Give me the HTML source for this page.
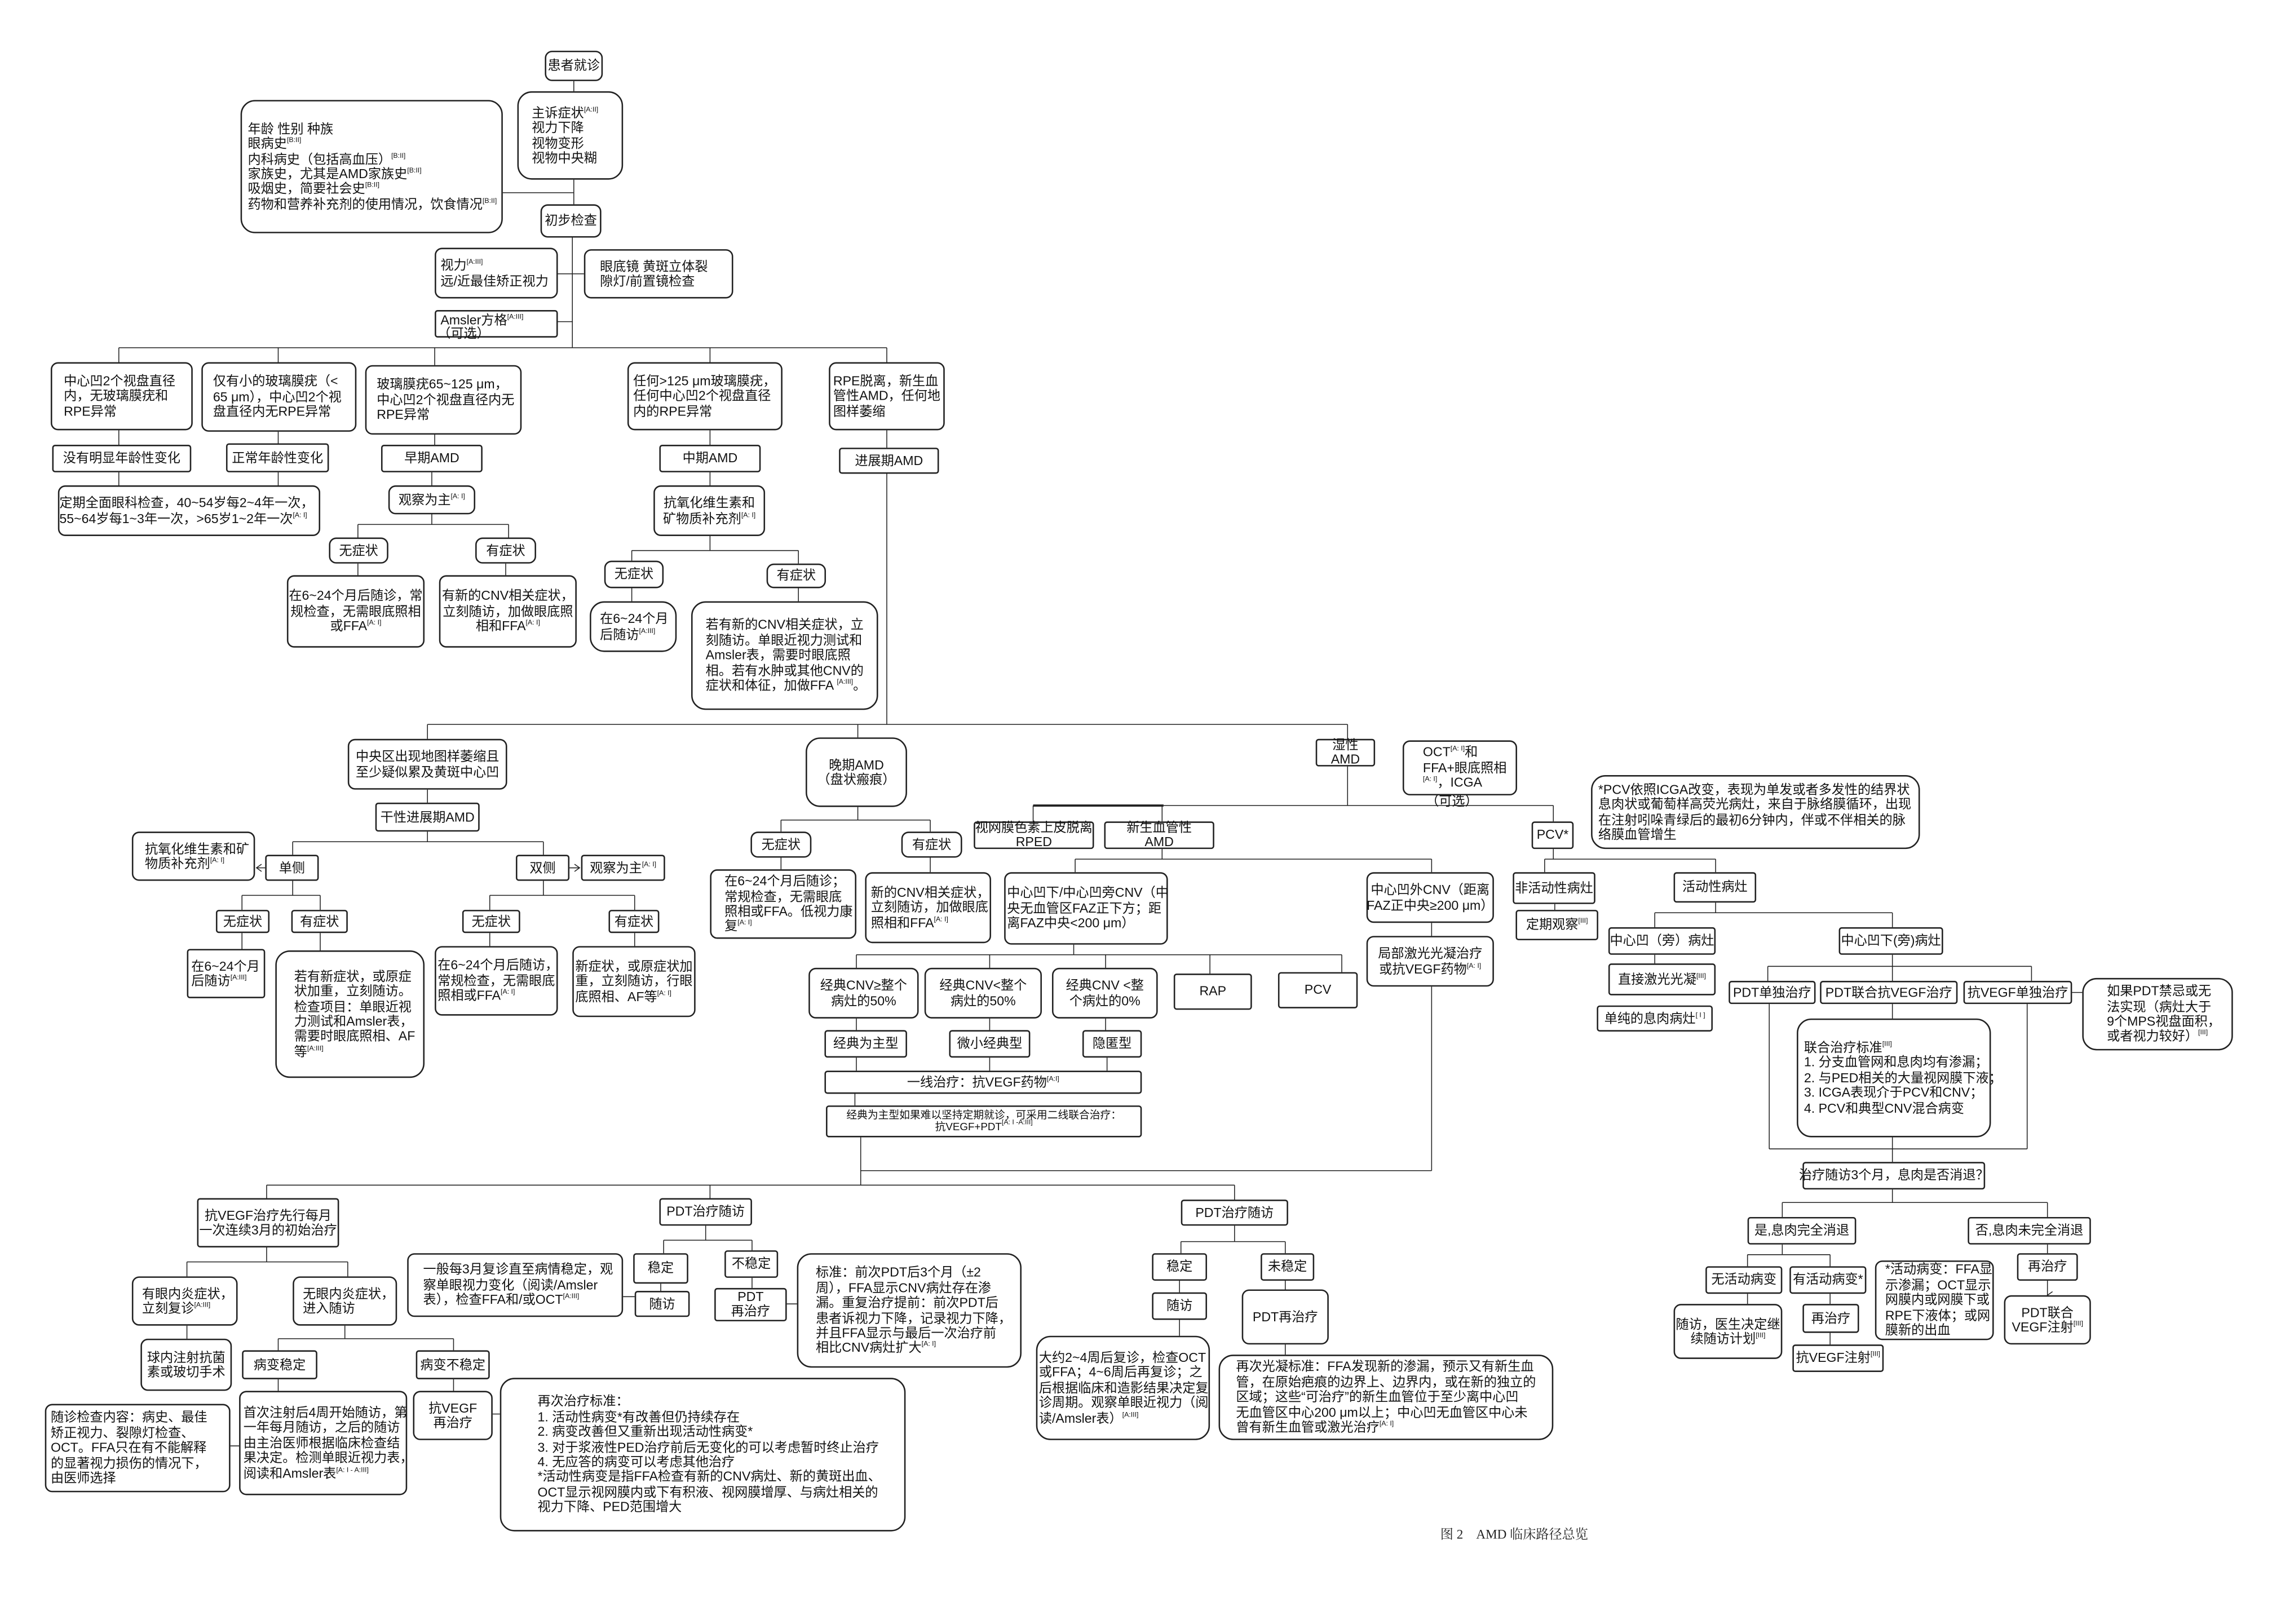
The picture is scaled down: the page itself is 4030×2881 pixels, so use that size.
<!DOCTYPE html>
<html><head><meta charset="utf-8"><style>
html,body{margin:0;padding:0;background:#fff;}
body{width:4030px;height:2880px;overflow:hidden;position:relative;}
#w{position:absolute;left:0;top:0;width:1568px;height:1121px;transform:scale(2.5702);transform-origin:0 0;}
.b{position:absolute;box-sizing:border-box;border:0.7px solid #222;border-radius:5px;background:#fff;font-family:"Liberation Sans","Noto Sans CJK SC",sans-serif;font-size:9px;line-height:10.4px;color:#111;padding:1px 3px;display:flex;flex-direction:column;justify-content:center;white-space:nowrap;}
.c{align-items:center;text-align:center;}
.r{border-radius:2px;}
.rr{border-radius:10px;}
sup{font-size:4.8px;line-height:0;vertical-align:4px;}
svg{position:absolute;left:0;top:0;}
.t{position:absolute;font-family:"Liberation Sans","Noto Sans CJK SC",sans-serif;font-size:9px;line-height:10px;color:#111;white-space:nowrap;}
.cap{position:absolute;left:994px;top:1052px;font-family:"Liberation Serif","Noto Serif CJK SC",serif;font-size:9px;color:#222;white-space:nowrap;}
</style></head><body><div id="w">
<svg width="1568" height="1121" viewBox="0 0 1568 1121">
<defs><marker id="a" markerWidth="6" markerHeight="6" refX="3" refY="5" orient="auto-start-reverse" markerUnits="userSpaceOnUse"><path d="M0.5,1.5 L3,5 L5.5,1.5" fill="none" stroke="#222" stroke-width="0.6"/></marker>
<marker id="h" markerWidth="6" markerHeight="6" refX="5" refY="3" orient="0" markerUnits="userSpaceOnUse"><path d="M1.5,0.5 L5,3 L1.5,5.5" fill="none" stroke="#222" stroke-width="0.6"/></marker>
<marker id="l" markerWidth="6" markerHeight="6" refX="1" refY="3" orient="0" markerUnits="userSpaceOnUse"><path d="M4.5,0.5 L1,3 L4.5,5.5" fill="none" stroke="#222" stroke-width="0.6"/></marker></defs>
<g stroke="#222" stroke-width="0.6" fill="none">
<path d="M396,56V63 M396,124V141 M347,133H396 M395,164V240 M385,189H403 M385,222H395 M82,240H612 M82,240V250 M192,240V250 M300,240V252 M490,240V250 M612,240V250"/>
<path d="M82,297V307 M192,298V306 M300,300V307 M490,297V307 M612,297V309"/>
<path d="M82,326V335 M192,326V335 M247,389V397 M349,389V397 M436,406V415 M551,406V415 M167,644V655 M221,644V656 M338,644V653 M438,644V653 M539,592V600 M642,592V602 M591,730V739 M683,730V739 M764,730V739 M590,755V763 M129,915V924 M192,952V960 M313,952V960 M456,886V891 M519,882V889 M1220,667V677 M1306,667V677 M1402,667V677 M1413,884V894" marker-end="url(#a)"/>
<path d="M298,326V362 M247,362H351 M247,362V371 M351,362V371 M490,326V335 M490,370V380 M436,380H551 M436,380V387 M551,380V389 M612,327V500"/>
<path d="M295,500H930 M295,500V510 M592,500V509 M930,500V510 M930,529V556 M295,545V554 M295,574V581 M202,581H375 M202,581V590 M375,581V590 M202,608V618 M167,618H221 M167,618V628 M221,618V628 M375,608V618 M338,618H438 M338,618V628 M438,618V628 M592,557V566 M539,566H642 M539,566V574 M642,566V574"/>
<path d="M183,599H177" marker-end="url(#l)"/><path d="M393,599H400" marker-end="url(#h)"/>
<path d="M803,556H1072 M802,556V567 M713,556V567 M1072,556V567 M802,586V593 M742,593H988 M742,593V602 M988,593V602 M988,637V646 M988,681V808 M741,652V659 M591,659H926 M591,659V668 M683,659V668 M763,659V668 M835,659V672 M926,659V671 M591,703V711 M683,703V711 M763,703V711"/>
<path d="M713,556H803" stroke-width="1.5"/>
<path d="M594,785V818 M594,808H988 M184,818H852 M184,818V827 M490,818V827 M852,818V828 M184,861V871 M129,871H240 M129,871V881 M240,871V881 M238,915V924 M192,924H313 M192,924V932 M313,924V932 M159,998H165 M340,976H345 M487,846V856 M458,856H519 M458,856V865 M519,856V863 M430,895H438 M543,900H550 M852,846V857 M815,857H887 M815,857V865 M887,857V865 M814,884V892 M887,884V890 M814,911V922 M887,928V935"/>
<path d="M1072,586V593 M1066,593H1184 M1066,593V602 M1184,593V602 M1073,624V628 M1184,623V630 M1142,630H1306 M1142,630V640 M1306,630V640 M1142,659V665 M1306,659V667 M1220,667H1402 M1430,685H1437 M1221,693V793 M1399,693V793 M1221,793H1399 M1306,693V703 M1306,785V802 M1306,821V830 M1230,830H1413 M1230,830V840 M1413,830V840 M1230,859V866 M1206,866H1263 M1206,866V874 M1263,866V874 M1206,893V900 M1263,893V900 M1263,920V928 M1413,859V865"/>
</g></svg>

<div class="b c" style="left:376px;top:35px;width:40px;height:21px"><div>患者就诊</div></div>
<div class="b rr" style="left:357px;top:63px;width:73px;height:61px;padding-left:9px"><div>主诉症状<sup>[A:II]</sup><br>视力下降<br>视物变形<br>视物中央糊</div></div>
<div class="b rr" style="left:166px;top:69px;width:181px;height:92px;padding-left:4px"><div>年龄 性别 种族<br>眼病史<sup>[B:II]</sup><br>内科病史（包括高血压）<sup>[B:II]</sup><br>家族史，尤其是AMD家族史<sup>[B:II]</sup><br>吸烟史，简要社会史<sup>[B:II]</sup><br>药物和营养补充剂的使用情况，饮食情况<sup>[B:II]</sup></div></div>
<div class="b c" style="left:373px;top:141px;width:42px;height:23px"><div>初步检查</div></div>
<div class="b" style="left:300px;top:171px;width:85px;height:35px"><div>视力<sup>[A:III]</sup><br>远/近最佳矫正视力</div></div>
<div class="b" style="left:403px;top:172px;width:103px;height:34px;padding-left:10px"><div>眼底镜 黄斑立体裂<br>隙灯/前置镜检查</div></div>
<div class="b r" style="left:300px;top:214px;width:85px;height:19px;justify-content:flex-start"><div>Amsler方格<sup>[A:III]</sup></div></div>
<div class="t" style="left:302px;top:225px">（可选）</div>

<div class="b" style="left:35px;top:250px;width:98px;height:47px;padding-left:8px"><div>中心凹2个视盘直径<br>内，无玻璃膜疣和<br>RPE异常</div></div>
<div class="b" style="left:139px;top:250px;width:107px;height:48px;padding-left:7px"><div>仅有小的玻璃膜疣（&lt;<br>65 μm），中心凹2个视<br>盘直径内无RPE异常</div></div>
<div class="b" style="left:252px;top:252px;width:108px;height:48px;padding-left:7px"><div>玻璃膜疣65~125 μm，<br>中心凹2个视盘直径内无<br>RPE异常</div></div>
<div class="b" style="left:433px;top:250px;width:107px;height:47px"><div>任何&gt;125 μm玻璃膜疣，<br>任何中心凹2个视盘直径<br>内的RPE异常</div></div>
<div class="b" style="left:572px;top:250px;width:80px;height:47px;padding-left:2px"><div>RPE脱离，新生血<br>管性AMD，任何地<br>图样萎缩</div></div>
<div class="b c r" style="left:36px;top:307px;width:96px;height:19px"><div>没有明显年龄性变化</div></div>
<div class="b c r" style="left:156px;top:306px;width:71px;height:20px"><div>正常年龄性变化</div></div>
<div class="b c r" style="left:263px;top:307px;width:70px;height:19px"><div>早期AMD</div></div>
<div class="b c r" style="left:455px;top:307px;width:70px;height:19px"><div>中期AMD</div></div>
<div class="b c r" style="left:579px;top:309px;width:69px;height:18px"><div>进展期AMD</div></div>
<div class="b" style="left:40px;top:335px;width:181px;height:35px;padding-left:0"><div>定期全面眼科检查，40~54岁每2~4年一次，<br>55~64岁每1~3年一次，&gt;65岁1~2年一次<sup>[A: I]</sup></div></div>
<div class="b c" style="left:268px;top:335px;width:60px;height:20px"><div>观察为主<sup>[A: I]</sup></div></div>
<div class="b c" style="left:451px;top:335px;width:77px;height:35px"><div>抗氧化维生素和<br>矿物质补充剂<sup>[A: I]</sup></div></div>
<div class="b c" style="left:227px;top:371px;width:41px;height:18px"><div>无症状</div></div>
<div class="b c" style="left:328px;top:371px;width:42px;height:18px"><div>有症状</div></div>
<div class="b c" style="left:198px;top:397px;width:95px;height:50px"><div>在6~24个月后随诊，常<br>规检查，无需眼底照相<br>或FFA<sup>[A: I]</sup></div></div>
<div class="b c" style="left:303px;top:397px;width:95px;height:50px"><div>有新的CNV相关症状，<br>立刻随访，加做眼底照<br>相和FFA<sup>[A: I]</sup></div></div>
<div class="b c" style="left:417px;top:387px;width:41px;height:19px"><div>无症状</div></div>
<div class="b c" style="left:529px;top:389px;width:41px;height:17px"><div>有症状</div></div>
<div class="b rr" style="left:407px;top:415px;width:60px;height:35px;padding-left:6px"><div>在6~24个月<br>后随访<sup>[A:III]</sup></div></div>
<div class="b rr" style="left:477px;top:415px;width:129px;height:75px;padding-left:9px"><div>若有新的CNV相关症状，立<br>刻随访。单眼近视力测试和<br>Amsler表，需要时眼底照<br>相。若有水肿或其他CNV的<br>症状和体征，加做FFA <sup>[A:III]</sup>。</div></div>

<div class="b c" style="left:240px;top:510px;width:110px;height:35px"><div>中央区出现地图样萎缩且<br>至少疑似累及黄斑中心凹</div></div>
<div class="b c r" style="left:259px;top:554px;width:72px;height:20px"><div>干性进展期AMD</div></div>
<div class="b" style="left:91px;top:574px;width:85px;height:34px;padding-left:8px"><div>抗氧化维生素和矿<br>物质补充剂<sup>[A: I]</sup></div></div>
<div class="b c r" style="left:183px;top:590px;width:37px;height:18px"><div>单侧</div></div>
<div class="b c r" style="left:356px;top:590px;width:37px;height:18px"><div>双侧</div></div>
<div class="b c r" style="left:401px;top:590px;width:58px;height:18px"><div>观察为主<sup>[A: I]</sup></div></div>
<div class="b c r" style="left:149px;top:628px;width:37px;height:16px"><div>无症状</div></div>
<div class="b c r" style="left:201px;top:628px;width:39px;height:16px"><div>有症状</div></div>
<div class="b r" style="left:129px;top:655px;width:54px;height:34px;padding-left:2px"><div>在6~24个月<br>后随访<sup>[A:III]</sup></div></div>
<div class="b rr" style="left:190px;top:656px;width:103px;height:88px;padding-left:12px"><div>若有新症状，或原症<br>状加重，立刻随访。<br>检查项目：单眼近视<br>力测试和Amsler表，<br>需要时眼底照相、AF<br>等<sup>[A:III]</sup></div></div>
<div class="b c r" style="left:319px;top:628px;width:40px;height:16px"><div>无症状</div></div>
<div class="b c r" style="left:420px;top:628px;width:35px;height:16px"><div>有症状</div></div>
<div class="b" style="left:300px;top:653px;width:85px;height:48px;padding-left:1px"><div>在6~24个月后随访，<br>常规检查，无需眼底<br>照相或FFA<sup>[A: I]</sup></div></div>
<div class="b" style="left:395px;top:653px;width:85px;height:49px;padding-left:1px"><div>新症状，或原症状加<br>重，立刻随访，行眼<br>底照相、AF等<sup>[A: I]</sup></div></div>

<div class="b c rr" style="left:556px;top:509px;width:70px;height:48px"><div>晚期AMD<br>（盘状瘢痕）</div></div>
<div class="b c" style="left:518px;top:574px;width:42px;height:18px"><div>无症状</div></div>
<div class="b c" style="left:622px;top:574px;width:42px;height:18px"><div>有症状</div></div>
<div class="b" style="left:490px;top:600px;width:101px;height:48px;padding-left:9px"><div>在6~24个月后随诊；<br>常规检查，无需眼底<br>照相或FFA。低视力康<br>复<sup>[A: I]</sup></div></div>
<div class="b" style="left:597px;top:602px;width:87px;height:49px;padding-left:3px"><div>新的CNV相关症状，<br>立刻随访，加做眼底<br>照相和FFA<sup>[A: I]</sup></div></div>

<div class="b c r" style="left:908px;top:510px;width:41px;height:19px;line-height:9.5px"><div>湿性<br>AMD</div></div>
<div class="b" style="left:968px;top:511px;width:79px;height:38px;padding-left:13px"><div>OCT<sup>[A: I]</sup>和<br>FFA+眼底照相<br><sup>[A: I]</sup>，ICGA</div></div>
<div class="t" style="left:984px;top:548px">（可选）</div>
<div class="b c r" style="left:672px;top:567px;width:83px;height:19px;line-height:9.5px"><div>视网膜色素上皮脱离<br>RPED</div></div>
<div class="b c r" style="left:762px;top:567px;width:76px;height:19px;line-height:9.5px"><div>新生血管性<br>AMD</div></div>
<div class="b c r" style="left:1057px;top:567px;width:29px;height:19px"><div>PCV*</div></div>
<div class="b rr" style="left:1098px;top:535px;width:227px;height:51px;padding-left:4px"><div>*PCV依照ICGA改变，表现为单发或者多发性的结界状<br>息肉状或葡萄样高荧光病灶，来自于脉络膜循环，出现<br>在注射吲哚青绿后的最初6分钟内，伴或不伴相关的脉<br>络膜血管增生</div></div>
<div class="b" style="left:693px;top:602px;width:113px;height:50px;padding-left:1px"><div>中心凹下/中心凹旁CNV（中<br>央无血管区FAZ正下方；距<br>离FAZ中央&lt;200 μm）</div></div>
<div class="b c" style="left:943px;top:602px;width:88px;height:35px"><div>中心凹外CNV（距离<br>FAZ正中央≥200 μm）</div></div>
<div class="b c" style="left:943px;top:646px;width:88px;height:35px"><div>局部激光光凝治疗<br>或抗VEGF药物<sup>[A: I]</sup></div></div>
<div class="b c" style="left:558px;top:668px;width:76px;height:35px"><div>经典CNV≥整个<br>病灶的50%</div></div>
<div class="b c" style="left:638px;top:668px;width:81px;height:35px"><div>经典CNV&lt;整个<br>病灶的50%</div></div>
<div class="b c" style="left:726px;top:668px;width:73px;height:35px"><div>经典CNV &lt;整<br>个病灶的0%</div></div>
<div class="b c r" style="left:810px;top:672px;width:54px;height:25px"><div>RAP</div></div>
<div class="b c r" style="left:882px;top:671px;width:55px;height:25px"><div>PCV</div></div>
<div class="b c r" style="left:569px;top:711px;width:57px;height:19px"><div>经典为主型</div></div>
<div class="b c r" style="left:655px;top:711px;width:56px;height:19px"><div>微小经典型</div></div>
<div class="b c r" style="left:747px;top:711px;width:41px;height:19px"><div>隐匿型</div></div>
<div class="b c r" style="left:569px;top:739px;width:219px;height:16px"><div>一线治疗：抗VEGF药物<sup>[A:I]</sup></div></div>
<div class="b c r" style="left:570px;top:763px;width:218px;height:22px;font-size:7.3px;line-height:8.5px"><div>经典为主型如果难以坚持定期就诊，可采用二线联合治疗：<br>抗VEGF+PDT<sup>[A: I -A:III]</sup></div></div>

<div class="b c r" style="left:1044px;top:602px;width:57px;height:22px"><div>非活动性病灶</div></div>
<div class="b c r" style="left:1046px;top:628px;width:57px;height:21px"><div>定期观察<sup>[III]</sup></div></div>
<div class="b c r" style="left:1155px;top:602px;width:57px;height:21px"><div>活动性病灶</div></div>
<div class="b c r" style="left:1110px;top:640px;width:74px;height:19px"><div>中心凹（旁）病灶</div></div>
<div class="b c r" style="left:1110px;top:665px;width:74px;height:22px"><div>直接激光光凝<sup>[III]</sup></div></div>
<div class="b c r" style="left:1102px;top:694px;width:80px;height:18px"><div>单纯的息肉病灶<sup>[ I ]</sup></div></div>
<div class="b c r" style="left:1269px;top:640px;width:72px;height:19px"><div>中心凹下(旁)病灶</div></div>
<div class="b c r" style="left:1193px;top:677px;width:60px;height:16px"><div>PDT单独治疗</div></div>
<div class="b c r" style="left:1256px;top:677px;width:95px;height:16px"><div>PDT联合抗VEGF治疗</div></div>
<div class="b c r" style="left:1355px;top:677px;width:75px;height:16px"><div>抗VEGF单独治疗</div></div>
<div class="b rr" style="left:1437px;top:675px;width:104px;height:50px;padding-left:16px"><div>如果PDT禁忌或无<br>法实现（病灶大于<br>9个MPS视盘面积，<br>或者视力较好）<sup>[III]</sup></div></div>
<div class="b rr" style="left:1240px;top:703px;width:134px;height:82px;padding-left:4px"><div>联合治疗标准<sup>[III]</sup><br>1. 分支血管网和息肉均有渗漏；<br>2. 与PED相关的大量视网膜下液；<br>3. ICGA表现介于PCV和CNV；<br>4. PCV和典型CNV混合病变</div></div>
<div class="b c r" style="left:1244px;top:802px;width:126px;height:19px"><div>治疗随访3个月，息肉是否消退？</div></div>
<div class="b c r" style="left:1206px;top:840px;width:75px;height:19px"><div>是,息肉完全消退</div></div>
<div class="b c r" style="left:1358px;top:840px;width:85px;height:19px"><div>否,息肉未完全消退</div></div>
<div class="b c r" style="left:1177px;top:874px;width:53px;height:19px"><div>无活动病变</div></div>
<div class="b c r" style="left:1235px;top:874px;width:53px;height:19px"><div>有活动病变*</div></div>
<div class="b c" style="left:1155px;top:900px;width:75px;height:38px"><div>随访，医生决定继<br>续随访计划<sup>[III]</sup></div></div>
<div class="b c r" style="left:1244px;top:900px;width:39px;height:20px"><div>再治疗</div></div>
<div class="b c r" style="left:1237px;top:928px;width:63px;height:19px"><div>抗VEGF注射<sup>[III]</sup></div></div>
<div class="b" style="left:1294px;top:870px;width:82px;height:55px;padding-left:6px;overflow:hidden"><div>*活动病变：FFA显<br>示渗漏；OCT显示<br>网膜内或网膜下或<br>RPE下液体；或网<br>膜新的出血</div></div>
<div class="b c r" style="left:1392px;top:865px;width:42px;height:19px"><div>再治疗</div></div>
<div class="b c" style="left:1383px;top:894px;width:60px;height:34px"><div>PDT联合<br>VEGF注射<sup>[III]</sup></div></div>

<div class="b c r" style="left:136px;top:827px;width:98px;height:34px"><div>抗VEGF治疗先行每月<br>一次连续3月的初始治疗</div></div>
<div class="b c r" style="left:455px;top:827px;width:64px;height:19px"><div>PDT治疗随访</div></div>
<div class="b c r" style="left:815px;top:828px;width:74px;height:18px"><div>PDT治疗随访</div></div>
<div class="b" style="left:91px;top:881px;width:73px;height:34px;padding-left:6px"><div>有眼内炎症状，<br>立刻复诊<sup>[A:III]</sup></div></div>
<div class="b" style="left:202px;top:881px;width:72px;height:34px;padding-left:6px"><div>无眼内炎症状，<br>进入随访</div></div>
<div class="b c" style="left:97px;top:924px;width:63px;height:36px"><div>球内注射抗菌<br>素或玻切手术</div></div>
<div class="b c r" style="left:167px;top:932px;width:52px;height:20px"><div>病变稳定</div></div>
<div class="b c r" style="left:287px;top:932px;width:51px;height:20px"><div>病变不稳定</div></div>
<div class="b" style="left:31px;top:969px;width:128px;height:61px;padding-left:3px"><div>随诊检查内容：病史、最佳<br>矫正视力、裂隙灯检查、<br>OCT。FFA只在有不能解释<br>的显著视力损伤的情况下，<br>由医师选择</div></div>
<div class="b" style="left:165px;top:960px;width:116px;height:72px;padding-left:2px"><div>首次注射后4周开始随访，第<br>一年每月随访，之后的随访<br>由主治医师根据临床检查结<br>果决定。检测单眼近视力表，<br>阅读和Amsler表<sup>[A: I - A:III]</sup></div></div>
<div class="b c" style="left:285px;top:960px;width:55px;height:34px"><div>抗VEGF<br>再治疗</div></div>
<div class="b rr" style="left:345px;top:951px;width:280px;height:106px;padding-left:25px"><div>再次治疗标准：<br>1. 活动性病变*有改善但仍持续存在<br>2. 病变改善但又重新出现活动性病变*<br>3. 对于浆液性PED治疗前后无变化的可以考虑暂时终止治疗<br>4. 无应答的病变可以考虑其他治疗<br>*活动性病变是指FFA检查有新的CNV病灶、新的黄斑出血、<br>OCT显示视网膜内或下有积液、视网膜增厚、与病灶相关的<br>视力下降、PED范围增大</div></div>
<div class="b" style="left:281px;top:865px;width:149px;height:44px;padding-left:10px"><div>一般每3月复诊直至病情稳定，观<br>察单眼视力变化（阅读/Amsler<br>表），检查FFA和/或OCT<sup>[A:III]</sup></div></div>
<div class="b c r" style="left:437px;top:865px;width:38px;height:21px"><div>稳定</div></div>
<div class="b c r" style="left:438px;top:891px;width:38px;height:18px"><div>随访</div></div>
<div class="b c r" style="left:500px;top:863px;width:37px;height:19px"><div>不稳定</div></div>
<div class="b c r" style="left:493px;top:889px;width:50px;height:23px;line-height:9.5px"><div>PDT<br>再治疗</div></div>
<div class="b rr" style="left:550px;top:865px;width:155px;height:79px;padding-left:12px"><div>标准：前次PDT后3个月（±2<br>周），FFA显示CNV病灶存在渗<br>漏。重复治疗提前：前次PDT后<br>患者诉视力下降，记录视力下降，<br>并且FFA显示与最后一次治疗前<br>相比CNV病灶扩大<sup>[A: I]</sup></div></div>
<div class="b c r" style="left:795px;top:865px;width:38px;height:19px"><div>稳定</div></div>
<div class="b c r" style="left:795px;top:892px;width:38px;height:19px"><div>随访</div></div>
<div class="b c r" style="left:870px;top:865px;width:37px;height:19px"><div>未稳定</div></div>
<div class="b c" style="left:857px;top:890px;width:60px;height:38px"><div>PDT再治疗</div></div>
<div class="b rr" style="left:715px;top:922px;width:120px;height:72px;padding-left:1px"><div>大约2~4周后复诊，检查OCT<br>或FFA；4~6周后再复诊；之<br>后根据临床和造影结果决定复<br>诊周期。观察单眼近视力（阅<br>读/Amsler表）<sup>[A:III]</sup></div></div>
<div class="b rr" style="left:841px;top:935px;width:231px;height:59px;padding-left:11px"><div>再次光凝标准：FFA发现新的渗漏，预示又有新生血<br>管，在原始疤痕的边界上、边界内，或在新的独立的<br>区域；这些“可治疗”的新生血管位于至少离中心凹<br>无血管区中心200 μm以上；中心凹无血管区中心未<br>曾有新生血管或激光治疗<sup>[A: I]</sup></div></div>
<div class="cap">图 2　AMD 临床路径总览</div>
</div></body></html>
